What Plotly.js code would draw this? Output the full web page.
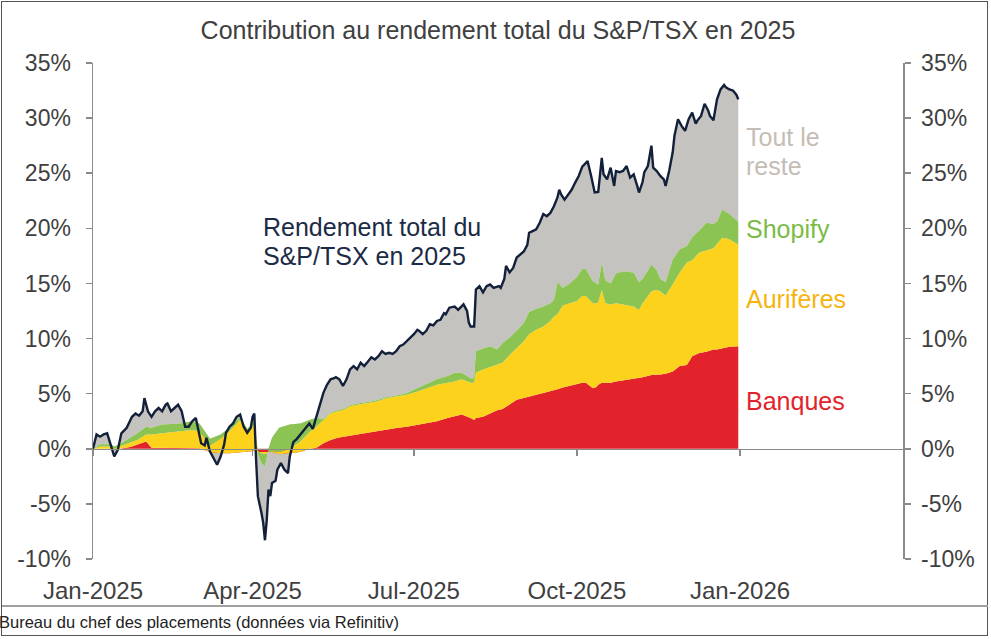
<!DOCTYPE html>
<html>
<head>
<meta charset="utf-8">
<script src="https://cdn.plot.ly/plotly-3.0.1.min.js"></script>
<style>
  body { margin: 0; background: #ffffff; }
  #wrap { position: relative; width: 991px; height: 639px; overflow: hidden; background: #fff; }
  #chart { position: absolute; left: 0; top: 0; width: 991px; height: 639px; }
  #frame { position: absolute; left: 1px; top: 1px; width: 985px; height: 633px; border: 1.5px solid #555; pointer-events: none; }
  #sep { position: absolute; left: 2px; width: 986px; top: 605px; border-top: 2px solid #a0a0a0; pointer-events: none; }
  #src { position: absolute; left: -1px; top: 613px; font-family: 'Liberation Sans', Arial, sans-serif; font-size: 16.5px; color: #222; white-space: nowrap; }
</style>
</head>
<body>
<div id="wrap">
  <div id="chart"></div>
  <div id="frame"></div>
  <div id="sep"></div>
  <div id="src">Bureau du chef des placements (données via Refinitiv)</div>
</div>
<script>
// ---------- DATA ----------
const totalDates = ['2025-01-01','2025-01-03','2025-01-05','2025-01-07','2025-01-09','2025-01-10','2025-01-12','2025-01-13','2025-01-15','2025-01-17','2025-01-20','2025-01-23','2025-01-25','2025-01-27','2025-01-29','2025-01-30','2025-02-01','2025-02-03','2025-02-05','2025-02-07','2025-02-09','2025-02-11','2025-02-12','2025-02-14','2025-02-16','2025-02-18','2025-02-20','2025-02-22','2025-02-24','2025-02-26','2025-02-28','2025-03-01','2025-03-03','2025-03-05','2025-03-06','2025-03-08','2025-03-10','2025-03-12','2025-03-14','2025-03-16','2025-03-17','2025-03-19','2025-03-21','2025-03-23','2025-03-25','2025-03-27','2025-03-29','2025-03-31','2025-04-01','2025-04-02','2025-04-03','2025-04-04','2025-04-06','2025-04-07','2025-04-08','2025-04-09','2025-04-10','2025-04-11','2025-04-12','2025-04-14','2025-04-15','2025-04-17','2025-04-19','2025-04-21','2025-04-22','2025-04-24','2025-04-26','2025-04-28','2025-04-30','2025-05-01','2025-05-03','2025-05-05','2025-05-07','2025-05-09','2025-05-11','2025-05-13','2025-05-15','2025-05-17','2025-05-18','2025-05-20','2025-05-22','2025-05-24','2025-05-26','2025-05-28','2025-05-30','2025-06-01','2025-06-03','2025-06-05','2025-06-07','2025-06-09','2025-06-11','2025-06-13','2025-06-15','2025-06-17','2025-06-19','2025-06-21','2025-06-23','2025-06-25','2025-06-27','2025-06-29','2025-07-01','2025-07-03','2025-07-04','2025-07-06','2025-07-08','2025-07-10','2025-07-12','2025-07-14','2025-07-16','2025-07-18','2025-07-19','2025-07-21','2025-07-24','2025-07-26','2025-07-29','2025-07-31','2025-08-01','2025-08-02','2025-08-04','2025-08-05','2025-08-07','2025-08-09','2025-08-11','2025-08-13','2025-08-15','2025-08-18','2025-08-19','2025-08-21','2025-08-22','2025-08-24','2025-08-26','2025-08-28','2025-08-30','2025-09-01','2025-09-03','2025-09-04','2025-09-06','2025-09-08','2025-09-10','2025-09-12','2025-09-14','2025-09-16','2025-09-18','2025-09-20','2025-09-21','2025-09-22','2025-09-24','2025-09-26','2025-09-28','2025-09-30','2025-10-02','2025-10-04','2025-10-06','2025-10-07','2025-10-09','2025-10-11','2025-10-13','2025-10-15','2025-10-16','2025-10-18','2025-10-20','2025-10-22','2025-10-23','2025-10-25','2025-10-27','2025-10-29','2025-10-31','2025-11-02','2025-11-04','2025-11-05','2025-11-07','2025-11-08','2025-11-10','2025-11-12','2025-11-13','2025-11-15','2025-11-17','2025-11-19','2025-11-20','2025-11-22','2025-11-24','2025-11-25','2025-11-27','2025-11-29','2025-12-01','2025-12-03','2025-12-05','2025-12-07','2025-12-08','2025-12-10','2025-12-12','2025-12-14','2025-12-15','2025-12-17','2025-12-19','2025-12-21','2025-12-23','2025-12-24','2025-12-26','2025-12-28','2025-12-30','2025-12-31'];

// Rendement total du S&P/TSX (%)
const rendementTotal = [0.0,1.3,1.1,1.3,1.4,0.9,-0.25,-0.7,-0.1,1.4,1.9,2.9,3.2,3.0,3.4,4.6,3.4,2.9,3.4,3.7,3.4,4.0,4.1,3.4,3.7,4.0,3.4,2.0,2.0,2.5,2.8,2.0,0.5,0.3,1.0,-0.25,-0.8,-1.45,-0.7,0.4,1.45,2.0,2.3,2.9,3.1,2.0,1.45,1.9,2.9,3.2,-1.0,-4.3,-5.8,-6.7,-8.3,-6.5,-3.7,-4.3,-3.1,-2.9,-1.9,-1.3,-1.9,-2.2,-0.7,0.6,0.9,1.3,1.7,2.0,2.3,1.8,2.9,4.0,5.1,5.8,6.3,6.4,6.5,6.3,5.7,6.3,7.2,7.5,7.2,7.8,7.5,7.9,8.3,8.1,8.4,8.85,8.6,8.7,8.6,8.85,9.3,9.45,9.75,10.1,10.4,10.8,10.7,10.4,10.7,11.3,11.2,11.6,11.7,12.3,12.2,12.8,12.9,12.6,13.1,12.5,11.45,11.1,11.1,14.45,14.75,14.2,14.75,14.9,14.6,14.75,14.6,15.4,16.6,16.0,16.4,17.35,17.6,17.9,18.5,19.6,19.75,19.9,20.5,21.3,21.1,21.4,22.0,22.8,23.5,23.1,22.6,23.1,23.5,24.15,24.75,25.6,26.0,26.1,24.75,23.25,23.3,26.4,24.9,24.45,25.5,23.85,25.2,25.1,25.2,25.65,24.6,24.9,23.85,23.25,24.2,25.1,25.65,27.5,25.5,25.2,24.75,24.45,23.85,25.2,26.9,28.4,29.9,29.3,28.85,29.9,30.5,29.5,29.8,30.2,31.3,30.7,30.2,29.8,31.7,32.6,33.0,32.8,32.6,32.5,32.1,31.7];

const bandDates = ['2025-01-01','2025-01-05','2025-01-11','2025-01-13','2025-01-16','2025-01-22','2025-01-26','2025-01-31','2025-02-03','2025-02-09','2025-02-19','2025-02-26','2025-03-02','2025-03-08','2025-03-14','2025-03-19','2025-03-25','2025-03-29','2025-04-01','2025-04-02','2025-04-04','2025-04-06','2025-04-08','2025-04-10','2025-04-12','2025-04-16','2025-04-22','2025-04-28','2025-05-03','2025-05-07','2025-05-11','2025-05-15','2025-05-19','2025-05-22','2025-05-26','2025-05-30','2025-06-05','2025-06-10','2025-06-16','2025-06-22','2025-06-27','2025-07-03','2025-07-08','2025-07-14','2025-07-20','2025-07-24','2025-07-28','2025-08-02','2025-08-04','2025-08-05','2025-08-09','2025-08-13','2025-08-17','2025-08-20','2025-08-24','2025-08-28','2025-09-01','2025-09-04','2025-09-08','2025-09-12','2025-09-16','2025-09-18','2025-09-20','2025-09-23','2025-09-27','2025-10-01','2025-10-04','2025-10-06','2025-10-10','2025-10-12','2025-10-13','2025-10-15','2025-10-17','2025-10-20','2025-10-23','2025-10-27','2025-10-31','2025-11-02','2025-11-05','2025-11-07','2025-11-12','2025-11-15','2025-11-17','2025-11-20','2025-11-24','2025-11-28','2025-12-02','2025-12-05','2025-12-09','2025-12-13','2025-12-17','2025-12-19','2025-12-22','2025-12-26','2025-12-31'];

// Contributions (points de %)
const banques = [0,0,0,0,0,0.15,0.35,0.65,0.1,0.1,0.1,0.1,0.05,-0.3,-0.4,-0.4,-0.3,-0.3,-0.2,-0.2,-0.3,-0.3,-0.3,-0.3,-0.3,-0.5,-0.4,-0.3,0,0.1,0.5,0.8,1.0,1.1,1.2,1.3,1.45,1.6,1.75,1.9,2.0,2.2,2.3,2.5,2.8,2.95,3.1,2.8,2.6,2.8,2.9,3.2,3.5,3.6,4.0,4.45,4.6,4.75,4.9,5.05,5.2,5.3,5.4,5.55,5.7,5.9,6.0,6.0,5.5,5.6,5.8,6.0,6.0,6.0,6.1,6.2,6.3,6.4,6.45,6.5,6.7,6.7,6.75,6.8,7.0,7.5,7.6,8.4,8.7,8.8,9.0,9.0,9.1,9.25,9.3];
const auriferes = [0,0.2,0.2,0,0.2,0.45,0.45,0.65,1.2,1.3,1.5,1.6,1.55,0.6,1.3,2.0,2.9,1.7,2.2,2.4,0.1,-0.1,-0.2,0.0,0.1,0.2,0.4,0.95,1.5,1.9,2.1,2.4,2.4,2.4,2.65,2.7,2.7,2.7,2.85,2.85,2.9,3.0,3.2,3.3,3.2,3.15,3.2,3.2,3.4,4.1,4.3,4.2,4.1,4.2,4.5,4.65,5.15,5.65,5.9,6.05,6.4,6.7,6.8,7.45,7.5,7.5,7.85,7.85,7.7,7.6,7.5,8.4,7.2,7.1,7.1,6.9,6.7,6.5,6.15,6.7,7.6,7.7,7.55,7.1,7.9,8.5,9.3,8.7,9.1,9.2,9.2,9.6,10.05,9.75,9.2];
const shopify = [0,0.2,0.2,0.2,0.2,0.4,0.6,0.7,0.6,0.8,0.7,0.8,0.7,0.6,0.4,0.3,0.3,0.4,0.4,0.3,-0.3,-0.9,-1.1,0.3,1.2,2.2,2.2,1.65,1.1,0.8,0.1,0.1,0.1,0.1,0.1,0.1,0.1,0.1,0.1,0.1,0.15,0.3,0.4,0.5,0.6,0.8,0.6,0.4,0.4,1.95,1.9,1.9,1.4,1.8,1.6,1.6,1.65,2.0,1.9,1.8,1.6,1.5,2.9,1.6,1.8,2.2,2.45,2.45,2.0,1.8,1.6,2.5,2.1,1.9,2.7,3.0,3.0,3.1,2.5,2.2,2.4,1.8,1.1,1.2,2.3,2.1,1.5,2.1,2.0,2.5,2.2,2.0,2.55,2.3,2.1];

// Axis ticks
const xTickVals = ['2025-01-01','2025-04-01','2025-07-01','2025-10-01','2026-01-01'];
const xTickText = ['Jan-2025','Apr-2025','Jul-2025','Oct-2025','Jan-2026'];
const yTickVals = [-10,-5,0,5,10,15,20,25,30,35];
const yTickText = ['-10%','-5%','0%','5%','10%','15%','20%','25%','30%','35%'];

// ---------- BUILD ----------
const cumBanques = banques.slice();
const cumOr = banques.map((v, i) => v + auriferes[i]);
const cumShop = cumOr.map((v, i) => v + shopify[i]);

const C_RED = '#e3232b', C_YEL = '#fcd21c', C_GRN = '#8cc453', C_GRAY = '#c5c3bf', C_LINE = '#13203a';
const FONT = 'Liberation Sans, Arial, sans-serif';
const xRange = ['2025-01-01', '2026-04-02 22:00'];
const yRange = [-10, 35];

const traces = [
  { x: bandDates, y: cumShop, type: 'scatter', mode: 'lines', line: { width: 0, color: 'rgba(0,0,0,0)' }, hoverinfo: 'skip', showlegend: false },
  { x: totalDates, y: rendementTotal, type: 'scatter', mode: 'lines', fill: 'tonexty', fillcolor: C_GRAY, line: { width: 0, color: C_GRAY }, hoverinfo: 'skip', showlegend: false },
  { x: bandDates, y: cumBanques, type: 'scatter', mode: 'lines', fill: 'tozeroy', fillcolor: C_RED, line: { width: 0, color: C_RED }, hoverinfo: 'skip', showlegend: false },
  { x: bandDates, y: cumOr, type: 'scatter', mode: 'lines', fill: 'tonexty', fillcolor: C_YEL, line: { width: 0, color: C_YEL }, hoverinfo: 'skip', showlegend: false },
  { x: bandDates, y: cumShop, type: 'scatter', mode: 'lines', fill: 'tonexty', fillcolor: C_GRN, line: { width: 0, color: C_GRN }, hoverinfo: 'skip', showlegend: false },
  { x: totalDates, y: rendementTotal, type: 'scatter', mode: 'lines', line: { width: 2.4, color: C_LINE }, hoverinfo: 'skip', showlegend: false },
  { x: totalDates, y: rendementTotal, xaxis: 'x2', yaxis: 'y', type: 'scatter', mode: 'lines', opacity: 0, line: { width: 0 }, hoverinfo: 'skip', showlegend: false },
  { x: totalDates, y: rendementTotal, xaxis: 'x', yaxis: 'y2', type: 'scatter', mode: 'lines', opacity: 0, line: { width: 0 }, hoverinfo: 'skip', showlegend: false }
];

const axisCommon = { showgrid: false, zeroline: false, linecolor: '#8a8a8a', linewidth: 1.5, tickcolor: '#8a8a8a', tickwidth: 1.5 };

function label(text, x, y, color) {
  return { xref: 'x', yref: 'y', x: x, y: y, xanchor: 'left', yanchor: 'middle', align: 'left', showarrow: false,
           text: text, font: { family: FONT, size: 25, color: color } };
}

const layout = {
  width: 991, height: 639,
  paper_bgcolor: 'rgba(0,0,0,0)', plot_bgcolor: 'rgba(0,0,0,0)',
  margin: { l: 93, r: 88, t: 63, b: 80 },
  showlegend: false,
  font: { family: FONT, color: '#404040', size: 22 },
  title: { text: 'Contribution au rendement total du S&amp;P/TSX en 2025', x: 0.5, xanchor: 'center', xref: 'paper', y: 1 - 30 / 639, yref: 'container', yanchor: 'middle', font: { family: FONT, size: 25, color: '#404040' } },
  xaxis: Object.assign({}, axisCommon, {
    type: 'date', range: xRange, showline: false, ticks: '', tickmode: 'array', tickvals: xTickVals, ticktext: xTickText,
    tickfont: { family: FONT, size: 24, color: '#404040' }, ticklabelstandoff: 15
  }),
  xaxis2: Object.assign({}, axisCommon, {
    type: 'date', range: xRange, overlaying: 'x', anchor: 'free', position: (0 - yRange[0]) / (yRange[1] - yRange[0]), side: 'bottom',
    showline: true, ticks: 'outside', ticklen: 6, tickmode: 'array', tickvals: xTickVals, showticklabels: false
  }),
  yaxis: Object.assign({}, axisCommon, {
    range: yRange, showline: true, ticks: 'outside', ticklen: 6, tickmode: 'array', tickvals: yTickVals, ticktext: yTickText,
    tickfont: { family: FONT, size: 23, color: '#404040' }, ticklabelstandoff: 10
  }),
  yaxis2: Object.assign({}, axisCommon, {
    range: yRange, overlaying: 'y', side: 'right', anchor: 'x', showline: true, ticks: 'outside', ticklen: 6, tickmode: 'array', tickvals: yTickVals, ticktext: yTickText,
    tickfont: { family: FONT, size: 23, color: '#404040' }, ticklabelstandoff: 6
  }),
  annotations: [
    label('Rendement total du', '2025-04-06', 20.1, '#1c2b45'),
    label('S&amp;P/TSX en 2025', '2025-04-06', 17.45, '#1c2b45'),
    label('Tout le', '2026-01-03', 28.3, '#c4bdb5'),
    label('reste', '2026-01-03', 25.65, '#c4bdb5'),
    label('Shopify', '2026-01-03', 19.9, '#7cbb45'),
    label('Aurifères', '2026-01-03', 13.55, '#f6b40e'),
    label('Banques', '2026-01-03', 4.36, '#e3232b')
  ]
};

Plotly.newPlot('chart', traces, layout, { staticPlot: true, displayModeBar: false });
</script>
</body>
</html>
